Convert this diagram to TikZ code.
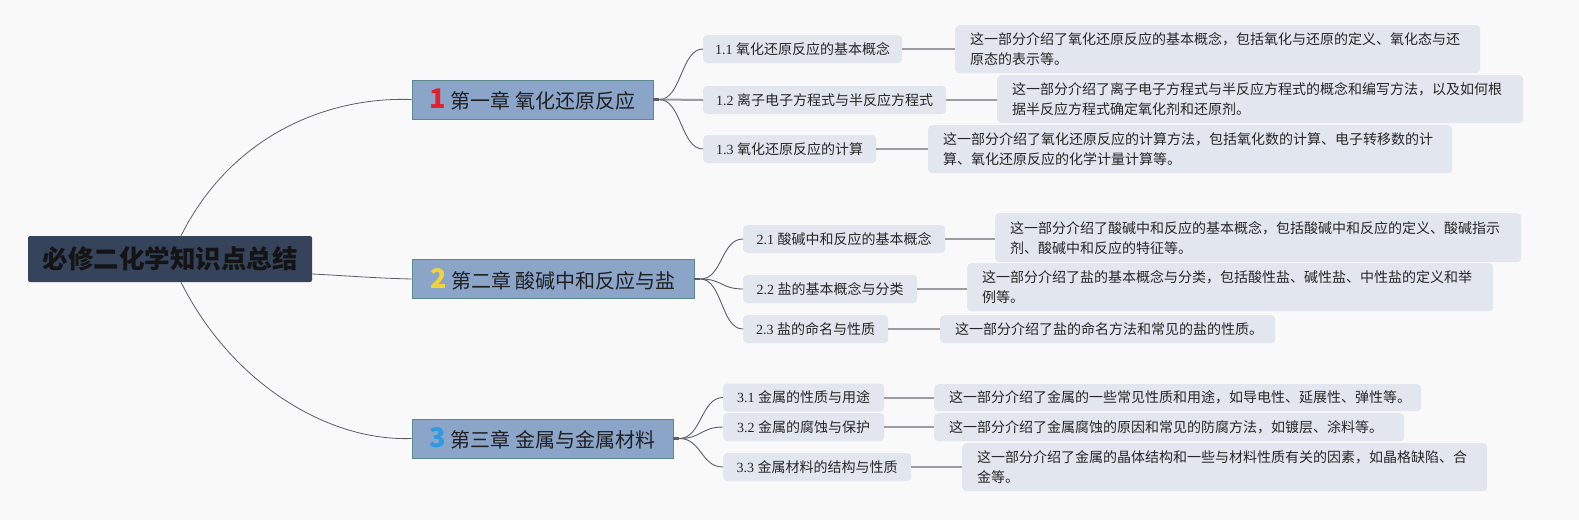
\documentclass[tikz,border=0pt]{standalone}
\usepackage{fontspec}
\setmainfont{Liberation Serif}
\newfontfamily\cjk{Noto Sans CJK SC}
\definecolor{bgc}{HTML}{F9F9FA}
\definecolor{rootc}{HTML}{35445A}
\definecolor{chapc}{HTML}{8BA5C9}
\definecolor{chapb}{HTML}{5A8A8E}
\definecolor{subc}{HTML}{E2E7EF}
\definecolor{linec}{HTML}{5A5E68}
\definecolor{barc}{HTML}{9A9CA2}
\definecolor{numr}{HTML}{E0202F}
\definecolor{numy}{HTML}{F2D33B}
\definecolor{numb}{HTML}{2E9BE0}
\newcommand{\chnum}[2]{{\cjk\bfseries\fontsize{27}{27}\selectfont\color{#1}#2}\hspace{5pt}}
\newcommand{\sublab}[2]{{\rmfamily #1} {\cjk #2}}
\begin{document}
\begin{tikzpicture}[x=1pt,y=-1pt,
  rootbox/.style={fill=rootc, rounded corners=2, minimum width=284, minimum height=46, inner sep=0, text=black!92, font=\cjk\bfseries\fontsize{25.5}{25.5}\selectfont},
  chapbox/.style={fill=chapc, draw=chapb, line width=0.8, minimum height=39, inner sep=0, text=black!88, font=\cjk\fontsize{20}{20}\selectfont},
  subbox/.style={fill=subc, rounded corners=4, minimum height=28, inner sep=0, anchor=west, text=black!85, font=\fontsize{14}{14}\selectfont},
  descbox/.style={fill=subc, rounded corners=4, anchor=north west, inner xsep=15, inner ysep=0, align=left, text=black!85, font=\cjk\fontsize{14}{20}\selectfont},
  rootline/.style={draw=linec, line width=0.8},
  branch/.style={draw=linec, line width=0.9},
  stub/.style={draw=linec, line width=2.6},
  bar/.style={draw=barc, line width=2}]
\fill[bgc] (0,0) rectangle (1579,520);
\useasboundingbox (0,0) rectangle (1579,520);

% root
\node[rootbox] (r) at (170,259) {必修二化学知识点总结};

% chapters
\node[chapbox, minimum width=241] (c1) at (532.5,99.5) {\chnum{numr}{1}第一章 氧化还原反应};
\node[chapbox, minimum width=282] (c2) at (553,279) {\chnum{numy}{2}第二章 酸碱中和反应与盐};
\node[chapbox, minimum width=261] (c3) at (542.5,438.5) {\chnum{numb}{3}第三章 金属与金属材料};

% subtopics
\node[subbox, minimum width=199] (s11) at (703,49) {\sublab{1.1}{氧化还原反应的基本概念}};
\node[subbox, minimum width=243] (s12) at (703,100) {\sublab{1.2}{离子电子方程式与半反应方程式}};
\node[subbox, minimum width=173] (s13) at (703,149) {\sublab{1.3}{氧化还原反应的计算}};
\node[subbox, minimum width=202] (s21) at (743,239) {\sublab{2.1}{酸碱中和反应的基本概念}};
\node[subbox, minimum width=174] (s22) at (743,289) {\sublab{2.2}{盐的基本概念与分类}};
\node[subbox, minimum width=145] (s23) at (743,329) {\sublab{2.3}{盐的命名与性质}};
\node[subbox, minimum width=161] (s31) at (723,397.5) {\sublab{3.1}{金属的性质与用途}};
\node[subbox, minimum width=161] (s32) at (723,427) {\sublab{3.2}{金属的腐蚀与保护}};
\node[subbox, minimum width=188] (s33) at (723,467) {\sublab{3.3}{金属材料的结构与性质}};

% descriptions
\node[descbox, text width=495, minimum height=48] (d11) at (955,25) {这一部分介绍了氧化还原反应的基本概念，包括氧化与还原的定义、氧化态与还\\原态的表示等。};
\node[descbox, text width=496, minimum height=48] (d12) at (997,75) {这一部分介绍了离子电子方程式与半反应方程式的概念和编写方法，以及如何根\\据半反应方程式确定氧化剂和还原剂。};
\node[descbox, text width=494, minimum height=48] (d13) at (928,125) {这一部分介绍了氧化还原反应的计算方法，包括氧化数的计算、电子转移数的计\\算、氧化还原反应的化学计量计算等。};
\node[descbox, text width=496, minimum height=49] (d21) at (995,213) {这一部分介绍了酸碱中和反应的基本概念，包括酸碱中和反应的定义、酸碱指示\\剂、酸碱中和反应的特征等。};
\node[descbox, text width=496, minimum height=48] (d22) at (967,263) {这一部分介绍了盐的基本概念与分类，包括酸性盐、碱性盐、中性盐的定义和举\\例等。};
\node[descbox, text width=305, minimum height=28] (d23) at (940,315) {这一部分介绍了盐的命名方法和常见的盐的性质。};
\node[descbox, text width=457, minimum height=27] (d31) at (934,384) {这一部分介绍了金属的一些常见性质和用途，如导电性、延展性、弹性等。};
\node[descbox, text width=440, minimum height=28] (d32) at (934,413) {这一部分介绍了金属腐蚀的原因和常见的防腐方法，如镀层、涂料等。};
\node[descbox, text width=495, minimum height=48] (d33) at (962,443) {这一部分介绍了金属的晶体结构和一些与材料性质有关的因素，如晶格缺陷、合\\金等。};

% root connectors
\draw[rootline] ([xshift=11]r.north) .. controls +(50,-100) and +(-85,-3) .. (c1.west);
\draw[rootline] ([yshift=-15]r.east) .. controls +(40,2) and +(-40,-1) .. (c2.west);
\draw[rootline] ([xshift=11]r.south) .. controls +(50,100) and +(-85,3) .. (c3.west);

% chapter stubs
\coordinate (c1o) at ([xshift=6]c1.east);
\coordinate (c2o) at ([xshift=6]c2.east);
\coordinate (c3o) at ([xshift=6]c3.east);
\draw[stub] (c1.east) -- (c1o);
\draw[stub] (c2.east) -- (c2o);
\draw[stub] (c3.east) -- (c3o);

% chapter -> subtopic
\draw[branch] (c1o) .. controls +(22,0) and +(-22,0) .. (s11.west);
\draw[bar] (c1o) -- (s12.west);
\draw[branch] (c1o) .. controls +(22,0) and +(-22,0) .. (s13.west);
\draw[branch] (c2o) .. controls +(22,0) and +(-22,0) .. (s21.west);
\draw[branch] (c2o) .. controls +(22,0) and +(-22,0) .. (s22.west);
\draw[branch] (c2o) .. controls +(22,0) and +(-22,0) .. (s23.west);
\draw[branch] (c3o) .. controls +(22,0) and +(-22,0) .. (s31.west);
\draw[branch] (c3o) .. controls +(22,0) and +(-22,0) .. (s32.west);
\draw[branch] (c3o) .. controls +(22,0) and +(-22,0) .. (s33.west);

% subtopic -> description
\draw[bar] (s11.east) -- (s11.east -| d11.west);
\draw[bar] (s12.east) -- (s12.east -| d12.west);
\draw[bar] (s13.east) -- (s13.east -| d13.west);
\draw[bar] (s21.east) -- (s21.east -| d21.west);
\draw[bar] (s22.east) -- (s22.east -| d22.west);
\draw[bar] (s23.east) -- (s23.east -| d23.west);
\draw[bar] (s31.east) -- (s31.east -| d31.west);
\draw[bar] (s32.east) -- (s32.east -| d32.west);
\draw[bar] (s33.east) -- (s33.east -| d33.west);
\end{tikzpicture}
\end{document}
